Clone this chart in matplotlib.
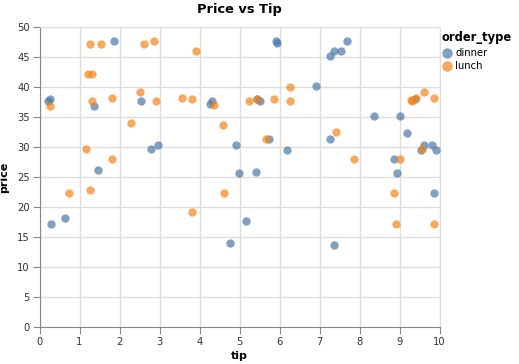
import matplotlib.pyplot as plt

# dinner orders
dinner_tip = [0.20, 0.25, 1.85, 1.35, 2.54, 2.78, 2.97, 1.46, 0.28, 0.64,
              5.90, 5.93, 4.30, 4.26, 5.43, 5.52, 5.73, 4.90, 6.18, 4.99,
              5.41, 5.17, 4.76, 7.68, 7.35, 7.53, 7.25, 6.90, 8.35, 9.02,
              9.39, 9.19, 7.26, 9.60, 9.80, 9.53, 9.90, 8.85, 8.94, 9.87,
              7.37]
dinner_price = [37.7, 38.0, 47.7, 36.9, 37.7, 29.8, 30.4, 26.3, 17.2, 18.3,
                47.7, 47.4, 37.7, 37.2, 38.0, 37.7, 31.4, 30.4, 29.5, 25.8,
                25.9, 17.8, 14.05, 47.7, 46.1, 46.1, 45.3, 40.2, 35.2, 35.2,
                38.05, 32.4, 31.4, 30.4, 30.4, 29.5, 29.5, 28.1, 25.8, 22.4,
                13.7]

# lunch orders
lunch_tip = [0.26, 1.26, 1.54, 1.21, 1.31, 1.32, 1.82, 2.50, 2.92, 2.61,
             2.85, 2.28, 1.15, 1.81, 0.73, 1.25, 3.91, 3.57, 3.81, 4.35,
             5.23, 5.43, 5.87, 6.25, 6.27, 4.59, 5.65, 4.61, 3.81, 9.28,
             9.30, 9.40, 9.61, 9.86, 7.40, 9.56, 7.86, 9.00, 8.86, 8.91,
             9.87]
lunch_price = [36.9, 47.2, 47.3, 42.3, 42.3, 37.7, 38.3, 39.3, 37.7, 47.2,
               47.7, 34.05, 29.8, 28.1, 22.4, 22.9, 46.1, 38.3, 38.0, 37.1,
               37.7, 38.0, 38.0, 40.1, 37.7, 33.8, 31.4, 22.4, 19.2, 37.9,
               37.7, 38.3, 39.3, 38.3, 32.5, 29.8, 28.1, 28.1, 22.4, 17.2,
               17.2]

fig = plt.figure(figsize=(5.19, 3.64), dpi=100)
ax = fig.add_axes([39.5 / 519, (364 - 327.3) / 364, 400 / 519, 300 / 364])

ax.scatter(dinner_tip, dinner_price, s=36, color='#4c78a8', alpha=0.7,
           linewidths=0, label='dinner', zorder=3)
ax.scatter(lunch_tip, lunch_price, s=36, color='#f58518', alpha=0.7,
           linewidths=0, label='lunch', zorder=3)

ax.set_xlim(0, 10)
ax.set_ylim(0, 50)
ax.set_xticks(range(0, 11))
ax.set_yticks(range(0, 51, 5))
ax.grid(True, color='#dddddd', linewidth=1, zorder=0)
ax.set_axisbelow(True)
for side in ['top', 'right']:
    ax.spines[side].set_color('#dddddd')
for side in ['left', 'bottom']:
    ax.spines[side].set_color('#888888')
ax.tick_params(axis='both', length=5, color='#888888', labelsize=7.2,
               labelcolor='#333333', pad=2)

ax.set_xlabel('tip', fontsize=8, fontweight='bold', labelpad=3)
ax.set_ylabel('price', fontsize=8, fontweight='bold', labelpad=6)
ax.set_title('Price vs Tip', fontsize=9.4, fontweight='bold', pad=10)

leg = fig.legend(loc='upper left', bbox_to_anchor=(441 / 519, 1 - 31 / 364),
                 frameon=False, title='order_type', fontsize=7.2,
                 title_fontsize=8.3, handletextpad=0.2, labelspacing=0.35,
                 borderpad=0, borderaxespad=0, markerscale=1.25,
                 handlelength=1.2)
leg.get_title().set_fontweight('bold')
leg._legend_box.align = 'left'

fig.savefig('out.png', dpi=100)
